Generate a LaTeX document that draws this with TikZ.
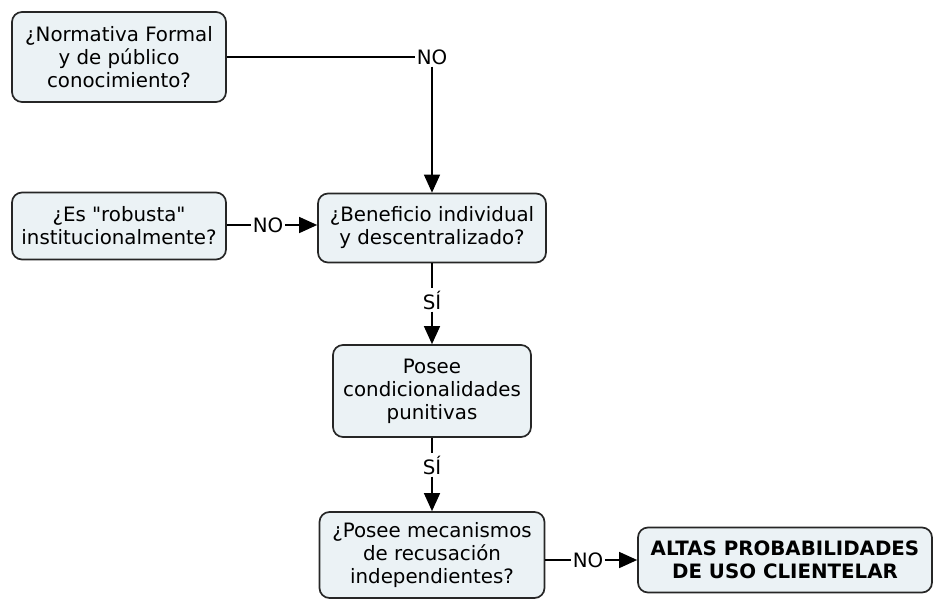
\documentclass[tikz,border=0pt]{standalone}
\usepackage{fontspec}
\setmainfont{DejaVu Sans}
\usepackage{xcolor}
\usepackage{tikz}
\usetikzlibrary{arrows.meta}
\definecolor{boxfill}{HTML}{EBF2F5}

\begin{document}
\begin{tikzpicture}[x=1pt, y=-1pt, every node/.style={font=\fontsize{19.8}{23}\selectfont, align=center}, box/.style={draw=black!85, line width=1.7pt, rounded corners=10pt, fill=boxfill, inner sep=2pt}, lbl/.style={inner sep=2pt}, conn/.style={line width=1.4pt}, arr/.style={conn, -{Triangle[width=16pt,length=18pt]}}]
		\useasboundingbox (0,0) rectangle (935,600);
		\node[box, minimum width=214pt, minimum height=90pt](normativa) at (119,57){¿Normativa Formal\\y de público\\conocimiento?};
		\node[box, minimum width=214pt, minimum height=67pt](robusta) at (119,226){¿Es \textquotedbl robusta\textquotedbl\\institucionalmente?};
		\node[box, minimum width=228pt, minimum height=69pt](beneficio) at (432,228){¿Beneficio individual\\y descentralizado?};
		\node[box, minimum width=198pt, minimum height=92pt](condicion) at (432,391){Posee\\condicionalidades\\punitivas};
		\node[box, minimum width=225pt, minimum height=86pt](recusacion) at (432,555){¿Posee mecanismos\\de recusación\\independientes?};
		\node[box, minimum width=294pt, minimum height=65pt](clientelar) at (785,560){\bfseries ALTAS PROBABILIDADES\\\bfseries DE USO CLIENTELAR};
		\node[lbl](no1) at (432,57){NO};
		\node[lbl](no2) at (268,225){NO};
		\node[lbl](si1) at (432,300){SÍ};
		\node[lbl](si2) at (432,465){SÍ};
		\node[lbl](no3) at (588,560){NO};
		\draw[conn] (normativa.east |- no1) -- (no1);
		\draw[arr] (no1) -- (beneficio);
		\draw[conn] (robusta.east |- no2) -- (no2);
		\draw[arr] (no2) -- (beneficio.west |- no2);
		\draw[conn] (beneficio) -- (si1);
		\draw[arr] (si1) -- (condicion);
		\draw[conn] (condicion) -- (si2);
		\draw[arr] (si2) -- (recusacion);
		\draw[conn] (recusacion.east |- no3) -- (no3);
		\draw[arr] (no3) -- (clientelar);
	\end{tikzpicture}
\end{document}
